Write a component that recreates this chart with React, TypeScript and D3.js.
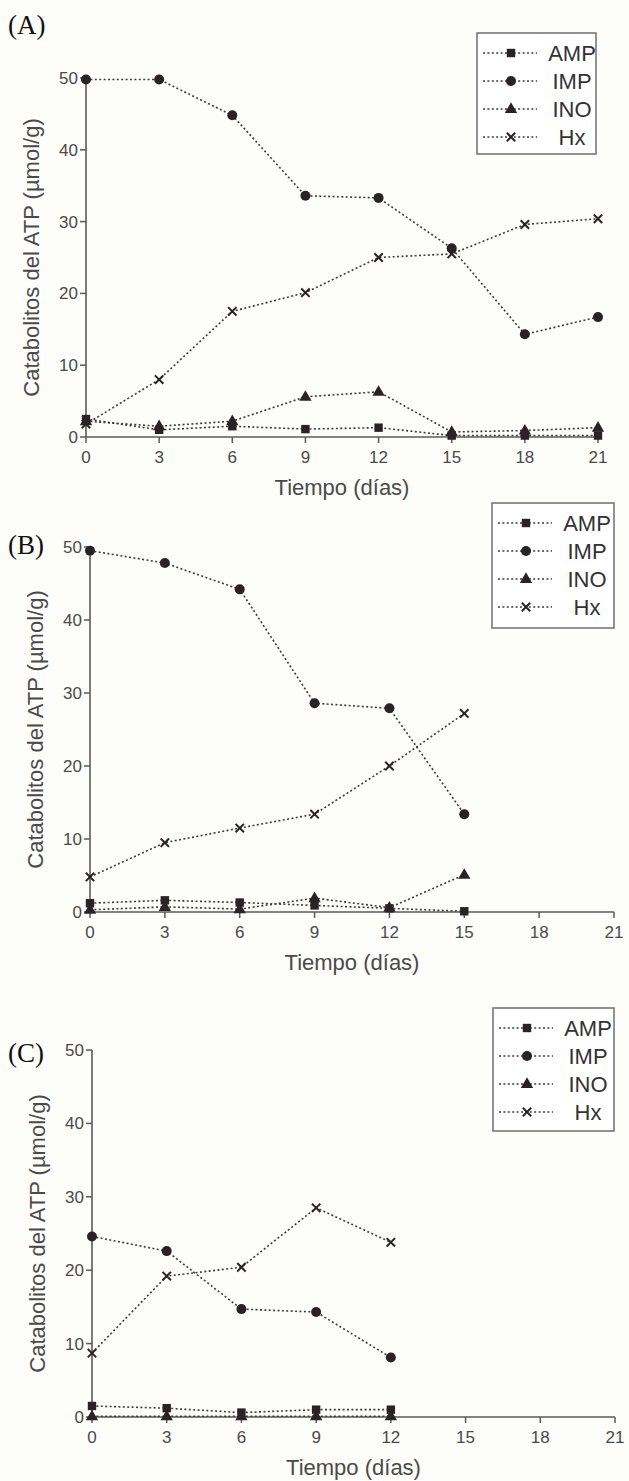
import React from "react";
import * as d3 from "d3";

const days = [0, 3, 6, 9, 12, 15, 18, 21];
const yTicks = [0, 10, 20, 30, 40, 50];
const seriesNames = ["AMP", "IMP", "INO", "Hx"];
const panelLabels = ["(A)", "(B)", "(C)"];

const A_AMP = [2.5, 1.0, 1.5, 1.1, 1.3, 0.2, 0.2, 0.2];
const A_IMP = [49.8, 49.8, 44.8, 33.6, 33.3, 26.3, 14.3, 16.7];
const A_INO = [2.2, 1.5, 2.2, 5.6, 6.3, 0.7, 0.9, 1.3];
const A_Hx = [1.8, 8.0, 17.5, 20.1, 25.0, 25.5, 29.6, 30.4];

const B_AMP = [1.2, 1.6, 1.3, 0.9, 0.5, 0.1];
const B_IMP = [49.5, 47.8, 44.2, 28.6, 27.9, 13.4];
const B_INO = [0.3, 0.7, 0.4, 1.9, 0.6, 5.1];
const B_Hx = [4.8, 9.5, 11.5, 13.4, 20.0, 27.2];

const C_AMP = [1.5, 1.2, 0.6, 1.0, 1.0];
const C_IMP = [24.6, 22.6, 14.7, 14.3, 8.1];
const C_INO = [0.1, 0.1, 0.1, 0.1, 0.1];
const C_Hx = [8.7, 19.2, 20.4, 28.5, 23.8];

const panelData = [
  [A_AMP, A_IMP, A_INO, A_Hx],
  [B_AMP, B_IMP, B_INO, B_Hx],
  [C_AMP, C_IMP, C_INO, C_Hx],
];

// layout (pixels)
const layouts = [
  { x0: 86, x1: 598, yTop: 78, yBot: 437, legend: { x: 477, y: 33, w: 119, h: 121 }, labelY: 34 },
  { x0: 90, x1: 614, yTop: 547, yBot: 912, legend: { x: 492, y: 503, w: 122, h: 125 }, labelY: 554 },
  { x0: 92, x1: 615, yTop: 1050, yBot: 1417, legend: { x: 493, y: 1008, w: 121, h: 123 }, labelY: 1062 },
];

const INK = "#2a2326";
const LINE = "#3c3c3c";
const AXIS = "#5a5a5a";
const TXT = "#4a4a4a";
const SANS = "'Liberation Sans', Arial, sans-serif";

function Marker({ kind, x, y }: { kind: number; x: number; y: number }) {
  if (kind === 0) {
    return <rect x={x - 4.2} y={y - 4.2} width={8.4} height={8.4} fill={INK} />;
  }
  if (kind === 1) {
    return <circle cx={x} cy={y} r={5} fill={INK} />;
  }
  if (kind === 2) {
    const p = d3.symbol().type(d3.symbolTriangle).size(66)();
    return <path d={p || ""} transform={`translate(${x},${y + 0.5})`} fill={INK} />;
  }
  const s = 4.2;
  return (
    <path
      d={`M${x - s},${y - s}L${x + s},${y + s}M${x - s},${y + s}L${x + s},${y - s}`}
      stroke={INK}
      strokeWidth={2}
      fill="none"
    />
  );
}

function Panel({ idx }: { idx: number }) {
  const L = layouts[idx];
  const data = panelData[idx];
  const x = d3.scaleLinear().domain([0, 21]).range([L.x0, L.x1]);
  const y = d3.scaleLinear().domain([0, 50]).range([L.yBot, L.yTop]);
  const line = d3
    .line<number>()
    .x((_, i) => x(days[i]))
    .y((v) => y(v));
  const lg = L.legend;
  return (
    <g>
      <text x={8} y={L.labelY} fontFamily="'Liberation Serif', 'Times New Roman', serif" fontSize={27} fill="#111">
        {panelLabels[idx]}
      </text>
      {/* axes */}
      <line x1={L.x0} x2={L.x0} y1={y(50)} y2={y(0)} stroke={AXIS} strokeWidth={1.6} />
      <line x1={L.x0} x2={x(21)} y1={y(0)} y2={y(0)} stroke={AXIS} strokeWidth={1.6} />
      {yTicks.map((t) => (
        <g key={"y" + t}>
          <line x1={L.x0 - 6} x2={L.x0} y1={y(t)} y2={y(t)} stroke={AXIS} strokeWidth={1.5} />
          <text x={L.x0 - 8} y={y(t) + 6} textAnchor="end" fontFamily={SANS} fontSize={17} fill={TXT}>
            {t}
          </text>
        </g>
      ))}
      {days.map((d) => (
        <g key={"x" + d}>
          <line x1={x(d)} x2={x(d)} y1={y(0)} y2={y(0) + 6} stroke={AXIS} strokeWidth={1.5} />
          <text x={x(d)} y={y(0) + 26} textAnchor="middle" fontFamily={SANS} fontSize={17} fill={TXT}>
            {d}
          </text>
        </g>
      ))}
      <text
        x={(L.x0 + L.x1) / 2}
        y={y(0) + 58}
        textAnchor="middle"
        fontFamily={SANS}
        fontSize={22}
        fill={TXT}
      >
        Tiempo (días)
      </text>
      <text
        transform={`translate(${L.x0 - 47},${(L.yTop + L.yBot) / 2}) rotate(-90)`}
        textAnchor="middle"
        fontFamily={SANS}
        fontSize={22}
        fill={TXT}
      >
        Catabolitos del ATP (µmol/g)
      </text>
      {/* series */}
      {data.map((vals, k) => (
        <g key={"s" + k}>
          <path d={line(vals) || ""} fill="none" stroke={LINE} strokeWidth={1.6} strokeDasharray="2 2.4" />
          {vals.map((v, i) => (
            <Marker key={i} kind={k} x={x(days[i])} y={y(v)} />
          ))}
        </g>
      ))}
      {/* legend */}
      <rect x={lg.x} y={lg.y} width={lg.w} height={lg.h} fill="#fff" stroke="#777" strokeWidth={1.6} />
      {seriesNames.map((n, k) => {
        const ry = lg.y + 20 + 28 * k;
        return (
          <g key={"l" + k}>
            <line x1={lg.x + 6} x2={lg.x + 60} y1={ry} y2={ry} stroke={LINE} strokeWidth={1.5} strokeDasharray="2 2.4" />
            <Marker kind={k} x={lg.x + 34} y={ry} />
            <text x={lg.x + 95} y={ry + 8} textAnchor="middle" fontFamily={SANS} fontSize={22} fill="#333">
              {n}
            </text>
          </g>
        );
      })}
    </g>
  );
}

export default function App() {
  return (
    <svg
      width={629}
      height={1481}
      style={{ position: "absolute", left: 0, top: 0, background: "#fdfdf9" }}
    >
      <rect width={629} height={1481} fill="#fdfdf9" />
      {[0, 1, 2].map((i) => (
        <Panel key={i} idx={i} />
      ))}
    </svg>
  );
}
